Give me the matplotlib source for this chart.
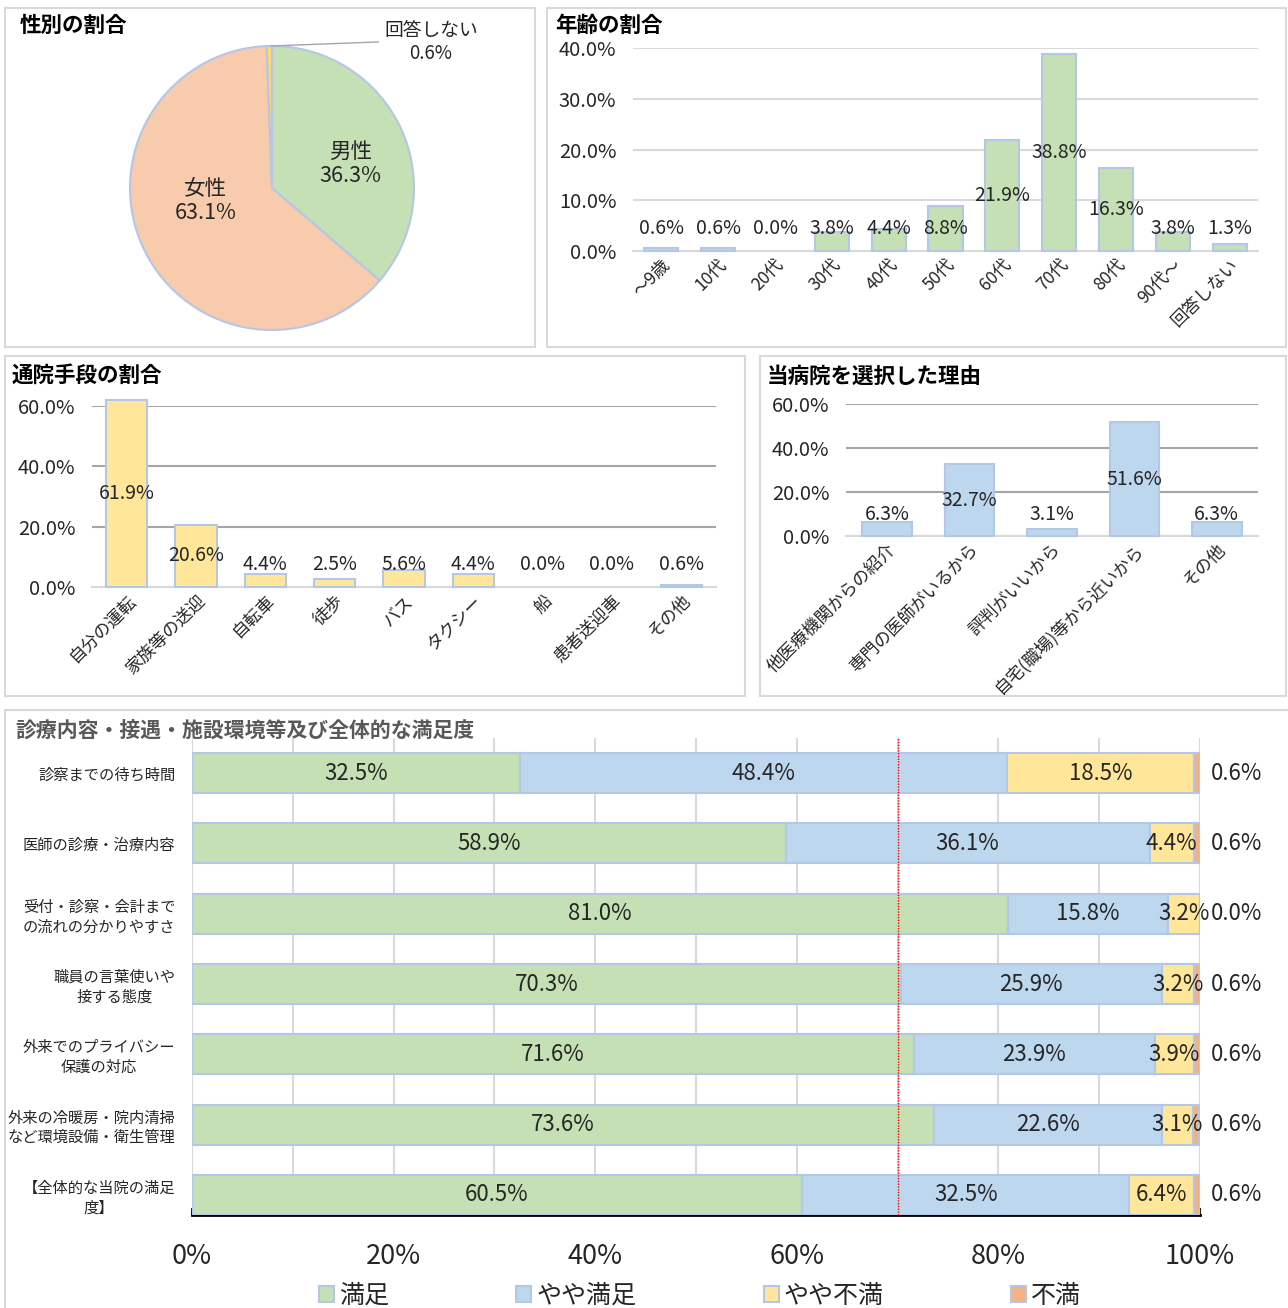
import numpy as np
import matplotlib
matplotlib.use("Agg")
import matplotlib.pyplot as plt
from matplotlib.patches import Rectangle
from matplotlib.ticker import FuncFormatter, MultipleLocator

plt.rcParams['font.family'] = ['Noto Sans CJK JP', 'DejaVu Sans']

# data
gender_labels = ["男性", "女性", "回答しない"]
gender_values = [36.3, 63.1, 0.6]

age_labels = ["～9歳", "10代", "20代", "30代", "40代", "50代", "60代", "70代", "80代", "90代～", "回答しない"]
age_values = [0.6, 0.6, 0.0, 3.8, 4.4, 8.8, 21.9, 38.8, 16.3, 3.8, 1.3]

trans_labels = ["自分の運転", "家族等の送迎", "自転車", "徒歩", "バス", "タクシー", "船", "患者送迎車", "その他"]
trans_values = [61.9, 20.6, 4.4, 2.5, 5.6, 4.4, 0.0, 0.0, 0.6]

reason_labels = ["他医療機関からの紹介", "専門の医師がいるから", "評判がいいから", "自宅(職場)等から近いから", "その他"]
reason_values = [6.3, 32.7, 3.1, 51.6, 6.3]

sat_items = ["診察までの待ち時間", "医師の診療・治療内容", "受付・診察・会計まで\nの流れの分かりやすさ",
             "職員の言葉使いや\n接する態度", "外来でのプライバシー\n保護の対応",
             "外来の冷暖房・院内清掃\nなど環境設備・衛生管理", "【全体的な当院の満足\n度】"]
sat_names = ["満足", "やや満足", "やや不満", "不満"]
sat_good = [32.5, 58.9, 81.0, 70.3, 71.6, 73.6, 60.5]
sat_fair = [48.4, 36.1, 15.8, 25.9, 23.9, 22.6, 32.5]
sat_poor = [18.5, 4.4, 3.2, 3.2, 3.9, 3.1, 6.4]
sat_bad = [0.6, 0.6, 0.0, 0.6, 0.6, 0.6, 0.6]

GREEN = "#C5E0B4"
BLUE = "#BDD7EE"
YELLOW = "#FFE699"
ORANGE = "#F4B183"
PEACH = "#F8CBAD"
EDGE = "#B4C7E7"
TXT = "#262626"

W, H = 1288, 1308
fig = plt.figure(figsize=(W / 100, H / 100), dpi=100)


def box(x0, y0, x1, y1):
    return [x0 / W, 1 - y1 / H, (x1 - x0) / W, (y1 - y0) / H]


def frame(x0, y0, x1, y1):
    fig.patches.append(Rectangle((x0 / W, 1 - y1 / H), (x1 - x0) / W, (y1 - y0) / H,
                                 transform=fig.transFigure, fill=False,
                                 edgecolor="#D9D9D9", linewidth=1.5))


frame(5, 8, 535, 347)
frame(547, 8, 1286, 347)
frame(5, 356, 745, 696)
frame(760, 356, 1286, 696)
frame(5, 710, 1290, 1312)

# titles
fig.text(20 / W, 1 - 25 / H, "性別の割合", fontsize=15.5, fontweight="bold", va="center", color="black")
fig.text(555 / W, 1 - 25 / H, "年齢の割合", fontsize=15.5, fontweight="bold", va="center", color="black")
fig.text(12 / W, 1 - 375 / H, "通院手段の割合", fontsize=15.5, fontweight="bold", va="center", color="black")
fig.text(767 / W, 1 - 376 / H, "当病院を選択した理由", fontsize=15.5, fontweight="bold", va="center", color="black")
fig.text(15 / W, 1 - 730 / H, "診療内容・接遇・施設環境等及び全体的な満足度", fontsize=15,
         fontweight="bold", va="center", color="#595959")

# pie
ax = fig.add_axes(box(130, 46, 414, 330))
ax.pie(gender_values, colors=[GREEN, PEACH, "#FFD966"], startangle=90, counterclock=False,
       wedgeprops=dict(edgecolor=EDGE, linewidth=1.5))
ax.set_xlim(-1, 1)
ax.set_ylim(-1, 1)
ax.set_aspect("equal")
ax.text(0.55, 0.17, f"{gender_labels[0]}\n{gender_values[0]}%", ha="center", va="center",
        fontsize=15.5, color=TXT, linespacing=1.15)
ax.text(-0.47, -0.09, f"{gender_labels[1]}\n{gender_values[1]}%", ha="center", va="center",
        fontsize=15.5, color=TXT, linespacing=1.15)
ax.annotate(f"{gender_labels[2]}\n{gender_values[2]}%", xy=(-0.01, 1.0), xytext=(1.12, 1.03),
            ha="center", va="center", fontsize=13.5, color=TXT, linespacing=1.15,
            annotation_clip=False,
            arrowprops=dict(arrowstyle="-", color="#A6A6A6", lw=1, shrinkA=2, shrinkB=0,
                            relpos=(0, 0.5)))


def vbar(rect, labels, values, color, ymax, step, minpos, gridc):
    ax = fig.add_axes(box(*rect))
    x = np.arange(len(values))
    lws = [1.5 if v > 0 else 0 for v in values]
    ax.bar(x, values, width=0.6, color=color, edgecolor=EDGE, linewidth=lws, zorder=3,
           clip_on=False)
    for xi, v in zip(x, values):
        ax.text(xi, max(v / 2, minpos), f"{v:.1f}%", ha="center", va="center",
                fontsize=14, color=TXT, zorder=4)
    ax.set_ylim(0, ymax)
    ax.set_xlim(-0.5, len(values) - 0.5)
    ax.yaxis.set_major_locator(MultipleLocator(step))
    ax.yaxis.set_major_formatter(FuncFormatter(lambda v, p: f"{v:.1f}%"))
    ax.grid(axis="y", color=gridc, linewidth=1.5, zorder=0)
    for s in ["top", "right", "left"]:
        ax.spines[s].set_visible(False)
    ax.spines["bottom"].set_color("#D9D9D9")
    ax.spines["bottom"].set_linewidth(1.5)
    ax.tick_params(axis="both", length=0, labelsize=14.5, colors=TXT)
    ax.tick_params(axis="y", pad=12)
    ax.set_xticks(x)
    ax.set_xticklabels(labels, rotation=45, ha="right", rotation_mode="anchor", fontsize=12.5)
    return ax


vbar((633, 48, 1258, 251), age_labels, age_values, GREEN, 40, 10, 4.4, "#D9D9D9")
vbar((92, 406, 716, 587), trans_labels, trans_values, YELLOW, 60, 20, 7.3, "#A6A6A6")
vbar((846, 404, 1258, 536), reason_labels, reason_values, BLUE, 60, 20, 10, "#A6A6A6")

# stacked horizontal bars
ax = fig.add_axes(box(192, 738, 1200, 1215))
y = np.arange(len(sat_items))
left = np.zeros(len(sat_items))
series = [sat_good, sat_fair, sat_poor, sat_bad]
colors = [GREEN, BLUE, YELLOW, ORANGE]
for name, vals, c in zip(sat_names, series, colors):
    vals = np.array(vals)
    ax.barh(y, vals, left=left, height=0.57, color=c, edgecolor=EDGE, linewidth=1.5,
            label=name, zorder=3)
    if name != "不満":
        for yi, l, v in zip(y, left, vals):
            ax.text(l + v / 2, yi, f"{v:.1f}%", ha="center", va="center", fontsize=16,
                    color=TXT, zorder=5)
    else:
        for yi, v in zip(y, vals):
            ax.annotate(f"{v:.1f}%", xy=(100, yi), xytext=(8, 0), textcoords="offset points",
                        ha="left", va="center", fontsize=16, color=TXT, annotation_clip=False)
    left = left + vals
ax.axvline(70, color="red", linestyle=(0, (1, 1)), linewidth=1, zorder=4)
ax.set_xlim(0, 100)
ax.set_ylim(len(sat_items) - 1 + 0.285, -0.5)
ax.xaxis.set_major_locator(MultipleLocator(20))
ax.xaxis.set_minor_locator(MultipleLocator(10))
ax.xaxis.set_major_formatter(FuncFormatter(lambda v, p: f"{v:.0f}%"))
ax.grid(axis="x", which="both", color="#D9D9D9", linewidth=1.5, zorder=0)
for s in ["top", "right", "left"]:
    ax.spines[s].set_visible(False)
ax.spines["bottom"].set_linewidth(2)
ax.spines["bottom"].set_color("black")
ax.tick_params(axis="x", which="major", length=5, width=1.5, direction="in", labelsize=19.5,
               pad=20, colors=TXT)
ax.tick_params(axis="x", which="minor", length=0)
ax.set_yticks(y)
ax.set_yticklabels(sat_items, fontsize=11, color=TXT, multialignment="center")
ax.tick_params(axis="y", length=0, pad=12)

handles, labels = ax.get_legend_handles_labels()
fig.legend(handles, labels, loc="center", bbox_to_anchor=(700 / W, 1 - 1296 / H), ncol=4,
           frameon=False, fontsize=18, handlelength=0.6, handleheight=0.6,
           handletextpad=0.2, columnspacing=5.1, labelcolor=TXT)

fig.savefig("out.png", dpi=100)
